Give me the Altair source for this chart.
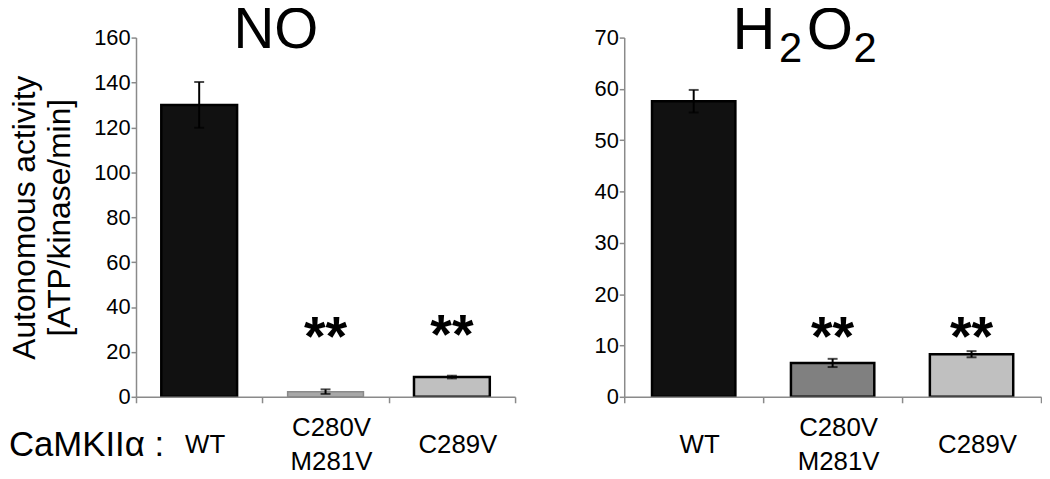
import altair as alt
import pandas as pd

# ---- data ----
categories = ["WT", "C280V M281V", "C289V"]

no_values = [130.0, 2.3, 8.8]
no_err = [10.2, 1.0, 0.6]
no_fills = ["#111111", "#a8a8a8", "#c0c0c0"]
no_strokes = ["#000000", "#8a8a8a", "#000000"]
no_stroke_widths = [2.5, 1.5, 2.5]
no_ticks = [0, 20, 40, 60, 80, 100, 120, 140, 160]

h2o2_values = [57.6, 6.6, 8.3]
h2o2_err = [2.2, 0.8, 0.6]
h2o2_fills = ["#111111", "#808080", "#c0c0c0"]
h2o2_strokes = ["#000000", "#000000", "#000000"]
h2o2_stroke_widths = [2.5, 2.5, 2.5]
h2o2_ticks = [0, 10, 20, 30, 40, 50, 60, 70]

star_categories = ["C280V M281V", "C289V"]
no_star_y = [26.0, 27.0]
h2o2_star_y = [11.4, 11.4]

AXIS_GRAY = "#8a8a8a"
FONT = "Liberation Sans"
PLOT_H = 362


def label_rows():
    # single-word labels sit on the middle row, two-word labels on rows 0 and 2
    rows = []
    for c in categories:
        words = c.split(" ")
        if len(words) == 1:
            rows.append({"cat": c, "text": words[0], "row": 1})
        else:
            rows.append({"cat": c, "text": words[0], "row": 0})
            rows.append({"cat": c, "text": words[1], "row": 2})
    return pd.DataFrame(rows)


def panel(values, errs, fills, strokes, sws, ticks, star_y, y_title):
    df = pd.DataFrame({
        "cat": categories,
        "val": values,
        "lo": [v - e for v, e in zip(values, errs)],
        "hi": [v + e for v, e in zip(values, errs)],
        "fill": fills,
        "stroke": strokes,
        "sw": sws,
    })
    stars = pd.DataFrame({"cat": star_categories, "val": star_y})

    x = alt.X(
        "cat:N", sort=categories,
        scale=alt.Scale(paddingInner=0, paddingOuter=0),
        axis=alt.Axis(
            title=None, labels=False, tickSize=6, tickBand="extent",
            domainColor=AXIS_GRAY, tickColor=AXIS_GRAY, domainWidth=1.5,
            tickWidth=1.5, zindex=1,
        ),
    )
    yaxis = dict(
        values=ticks, labelFontSize=22, labelPadding=1, tickSize=5,
        domainColor=AXIS_GRAY, tickColor=AXIS_GRAY, domainWidth=1.5,
        tickWidth=1.5, labelColor="black", grid=False, labelFont=FONT,
    )
    if y_title:
        yaxis.update(title=y_title, titleFontSize=32, titleFontWeight="normal",
                     titleLineHeight=36, titlePadding=17, titleColor="black",
                     titleFont=FONT)
    else:
        yaxis.update(title=None)
    y = alt.Y("val:Q", scale=alt.Scale(domain=[0, max(ticks)], nice=False),
              axis=alt.Axis(**yaxis))

    base = alt.Chart(df)
    bars = base.mark_bar(width=alt.RelativeBandSize(0.6)).encode(
        x=x, y=y,
        fill=alt.Fill("fill:N", scale=None),
        stroke=alt.Stroke("stroke:N", scale=None),
        strokeWidth=alt.StrokeWidth("sw:Q", scale=None),
    )
    xc = alt.X("cat:N", sort=categories)
    rule = base.mark_rule(color="black", strokeWidth=2).encode(
        x=xc, y="lo:Q", y2="hi:Q")
    cap_lo = base.mark_tick(color="black", size=10, thickness=2).encode(
        x=xc, y="lo:Q")
    cap_hi = base.mark_tick(color="black", size=10, thickness=2).encode(
        x=xc, y="hi:Q")
    star = alt.Chart(stars).mark_text(
        text="**", fontSize=56, fontWeight="bold", baseline="middle",
        color="black", font=FONT,
    ).encode(x=xc, y="val:Q")

    lbl = label_rows()
    cat_labels = [
        alt.Chart(lbl).transform_filter(alt.datum.row == r).mark_text(
            fontSize=26, baseline="middle", align="center", dx=6,
            color="black", font=FONT,
        ).encode(x=xc, text="text:N", y=alt.value(PLOT_H + 32 + 17 * r))
        for r in (0, 1, 2)
    ]
    return alt.layer(bars, rule, cap_lo, cap_hi, star, *cat_labels)


def label(txt, px, py, size, align="left"):
    return alt.Chart(pd.DataFrame({"t": [txt]})).mark_text(
        fontSize=size, align=align, baseline="alphabetic", color="black",
        font=FONT,
    ).encode(text="t:N", x=alt.value(px), y=alt.value(py))


left = alt.layer(
    panel(no_values, no_err, no_fills, no_strokes, no_stroke_widths,
          no_ticks, no_star_y, ["Autonomous activity", "[ATP/kinase/min]"]),
    label("NO", 141, 10, 57, align="center"),
    label("CaMKIIα :", -128, 422, 35),
).properties(width=382, height=PLOT_H)

right = alt.layer(
    panel(h2o2_values, h2o2_err, h2o2_fills, h2o2_strokes,
          h2o2_stroke_widths, h2o2_ticks, h2o2_star_y, None),
    label("H", 109, 12, 60),
    label("2", 156, 25, 42),
    label("O", 184, 12, 60),
    label("2", 231, 25, 42),
).properties(width=420, height=PLOT_H)

chart = alt.hconcat(
    left, right, spacing=110, bounds="flush",
    padding={"left": 0, "top": -8, "right": 0, "bottom": 0},
).configure(font=FONT).configure_view(stroke=None)

chart.save("out.html", embed_options={"renderer": "svg", "actions": False})
